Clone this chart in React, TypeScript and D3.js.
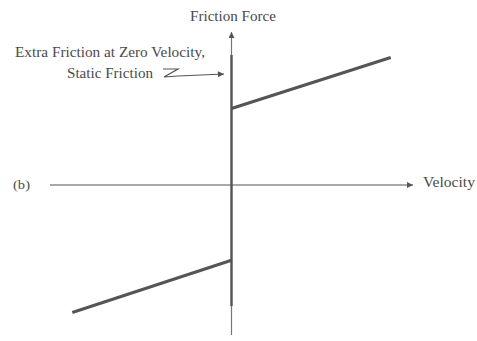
import React from "react";
import * as d3 from "d3";

// Friction model: Coulomb + viscous friction with extra static friction at v = 0
const velocityDomain: [number, number] = [-1.14, 1.14];
const forceDomain: [number, number] = [-1.2, 1.2];
const positiveBranch = [
  { v: 0, f: 0.6 },
  { v: 1.0, f: 1.0 },
];
const negativeBranch = [
  { v: -1.0, f: -1.0 },
  { v: 0, f: -0.59 },
];
const staticRange: [number, number] = [-0.95, 1.02];

const titleY = "Friction Force";
const titleX = "Velocity";
const panelLabel = "(b)";
const noteLines = ["Extra Friction at Zero Velocity,", "Static Friction"];

const W = 477;
const H = 341;

export default function App() {
  const x = d3.scaleLinear().domain(velocityDomain).range([50, 413]);
  const y = d3.scaleLinear().domain(forceDomain).range([338, 32]);
  const line = d3
    .line<{ v: number; f: number }>()
    .x((d) => x(d.v))
    .y((d) => y(d.f));

  const x0 = x(0);
  const y0 = y(0);
  const ink = "#555";
  const textInk = "#4a4a4a";
  const font = "'Liberation Serif', 'DejaVu Serif', serif";

  const label = (
    content: string,
    px: number,
    py: number,
    width: number,
    size = 14
  ) => (
    <text
      x={px}
      y={py}
      fontFamily={font}
      fontSize={size}
      fill={textInk}
      textLength={width}
      lengthAdjust="spacingAndGlyphs"
    >
      {content}
    </text>
  );

  return (
    <svg
      width={W}
      height={H}
      style={{ position: "absolute", left: 0, top: 0, background: "#fff" }}
    >
      <defs>
        <marker
          id="arrow"
          viewBox="0 0 10 10"
          refX="10"
          refY="5"
          markerWidth="10"
          markerHeight="6"
          markerUnits="userSpaceOnUse"
          orient="auto"
        >
          <path d="M0,0 L10,5 L0,10 Z" fill={ink} />
        </marker>
      </defs>

      {/* horizontal axis */}
      <line
        x1={x(velocityDomain[0])}
        x2={x(velocityDomain[1])}
        y1={y0}
        y2={y0}
        stroke={ink}
        strokeWidth={1.2}
        markerEnd="url(#arrow)"
      />
      {/* vertical axis */}
      <line
        x1={x0}
        x2={x0}
        y1={y(forceDomain[0]) - 3}
        y2={y(forceDomain[1])}
        stroke="#777"
        strokeWidth={1.2}
        markerEnd="url(#arrow)"
      />
      {/* static friction segment at zero velocity */}
      <line
        x1={x0}
        x2={x0}
        y1={y(staticRange[0])}
        y2={y(staticRange[1])}
        stroke={ink}
        strokeWidth={2.4}
      />

      {/* friction branches */}
      <path d={line(positiveBranch) ?? ""} fill="none" stroke={ink} strokeWidth={3} />
      <path d={line(negativeBranch) ?? ""} fill="none" stroke={ink} strokeWidth={3} />

      {/* labels */}
      {label(titleY, 190, 21, 86)}
      {label(titleX, 423, 187, 52, 15)}
      {label(panelLabel, 13, 189, 17, 13)}
      {label(noteLines[0], 15, 57, 190)}
      {label(noteLines[1], 67, 78, 86)}

      {/* squiggle pointer to the static friction */}
      <path
        d="M163,69 L178,69 L164,77 L178,76 L224,74"
        fill="none"
        stroke={ink}
        strokeWidth={1.2}
        markerEnd="url(#arrow)"
      />
    </svg>
  );
}
